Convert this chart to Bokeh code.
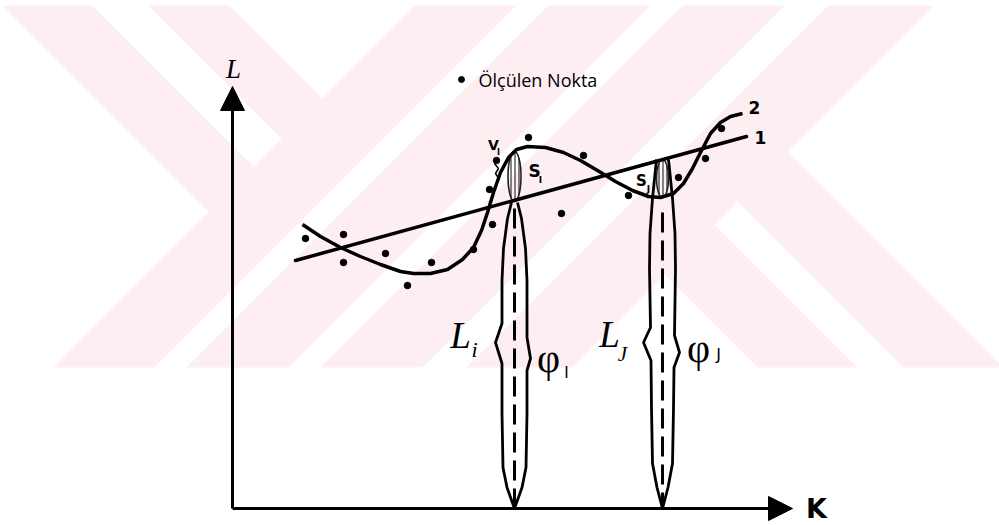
from bokeh.plotting import figure
from bokeh.models import Range1d, Arrow, NormalHead
from bokeh.core.properties import value
from bokeh.embed import file_html
from bokeh.resources import INLINE

# ---- measured points (K, L) -------------------------------------------
point_k = [73, 111, 111, 153, 199, 175, 241, 260, 257, 264, 296, 351, 329, 396, 446, 473, 489]
point_l = [270, 274, 246, 255, 246, 223, 259, 284, 319, 348, 371, 353, 295, 313, 331, 350, 380]

# ---- model 1: straight line --------------------------------------------
line1_k = [63, 514]
line1_l = [248, 372]

# ---- model 2: wavy curve -----------------------------------------------
curve2_k = [70, 88, 108, 128, 148, 168, 181, 198, 215, 230, 241, 249, 255, 261, 268,
            276, 284, 295, 313, 331, 348, 365, 383, 400, 416, 428, 441, 451, 460, 468,
            478, 488, 498, 510]
curve2_l = [284, 272, 261, 252, 244, 237, 235, 235, 239, 249, 261, 278, 296, 316, 336,
            351, 359, 362, 361, 356, 348, 338, 327, 318, 312, 311, 315, 325, 340, 356,
            375, 386, 392, 395]

# ---- normal-distribution spindles under two points (i and J) ----------
spindle_i_k = 282
i_left_l = [306, 290, 260, 228, 185, 166, 145, 95, 41, 21, 0]
i_left_hw = [3, 7, 11, 12.5, 12.5, 19, 12.5, 12.5, 11.5, 7.5, 0]
i_right_l = [306, 290, 260, 228, 171, 150, 138, 95, 41, 21, 0]
i_right_hw = [3, 7, 11, 12.5, 12.5, 16, 12.5, 12.5, 11.5, 7.5, 0]

spindle_j_k = 430
j_left_l = [349, 310, 275, 240, 181, 166, 148, 100, 45, 21, 0]
j_left_hw = [6, 10, 12.5, 13, 12, 19, 11.5, 11, 10, 5.5, 0]
j_right_l = [349, 310, 275, 240, 173, 156, 141, 100, 45, 21, 0]
j_right_hw = [6, 10, 12.5, 13, 12, 17, 11.5, 11, 10, 5.5, 0]

# hatched deviation areas S_i and S_J (centre K, centre L, width, height)
s_areas_k = [282, 430]
s_areas_l = [332, 330]
s_areas_w = [13, 12]
s_areas_h = [50, 38]

# axis extents
axis_k_end = 560
axis_l_end = 422

p = figure(width=999, height=525, x_range=Range1d(-232, 767), y_range=Range1d(-17, 508),
           output_backend="svg", toolbar_location=None, min_border=0,
           x_axis_type=None, y_axis_type=None)
p.grid.visible = False
p.outline_line_color = None
p.background_fill_color = "white"
p.border_fill_color = "white"

# ---- pale background emblem (diagonal stripes) -------------------------
PINK = "#fdeef1"
OX, OY = 232, 508  # page position of the origin
TOP, BOT = 5, 367
u_stripes = [(420, 521), (553, 655), (687, 789), (833, 938)]
tl_stripes = [(-3, 87), (143, 224)]
br_stripes = [(390, 490), (536, 636)]
wm_xs, wm_ys = [], []
for u0, u1 in u_stripes:
    xs = [u0 - TOP, u1 - TOP, u1 - BOT, u0 - BOT]
    ys = [TOP, TOP, BOT, BOT]
    wm_xs.append(xs); wm_ys.append(ys)
for v0, v1 in tl_stripes:
    xs = [v0 + TOP, v1 + TOP, (420 + v1) / 2, (420 + v0) / 2]
    ys = [TOP, TOP, (420 - v1) / 2, (420 - v0) / 2]
    wm_xs.append(xs); wm_ys.append(ys)
for v0, v1 in br_stripes:
    xs = [(938 + v0) / 2, (938 + v1) / 2, v1 + BOT, v0 + BOT]
    ys = [(938 - v0) / 2, (938 - v1) / 2, BOT, BOT]
    wm_xs.append(xs); wm_ys.append(ys)
p.patches([[x - OX for x in xs] for xs in wm_xs], [[OY - y for y in ys] for ys in wm_ys],
          fill_color=PINK, line_color=None)

# ---- axes with arrow heads ---------------------------------------------
p.add_layout(Arrow(end=NormalHead(size=24, fill_color="black", line_color="black"),
                   x_start=0, y_start=0, x_end=0, y_end=axis_l_end,
                   line_width=3, line_color="black"))
p.add_layout(Arrow(end=NormalHead(size=24, fill_color="black", line_color="black"),
                   x_start=0, y_start=0, x_end=axis_k_end, y_end=0,
                   line_width=3, line_color="black"))

# ---- spindles ------------------------------------------------------------
sp_xs = [
    [spindle_i_k - w for w in i_left_hw], [spindle_i_k + w for w in i_right_hw],
    [spindle_j_k - w for w in j_left_hw], [spindle_j_k + w for w in j_right_hw],
]
sp_ys = [i_left_l, i_right_l, j_left_l, j_right_l]
p.multi_line(sp_xs, sp_ys, line_color="black", line_width=2.8, line_join="round")
p.multi_line([[spindle_i_k, spindle_i_k], [spindle_j_k, spindle_j_k]],
             [[300, 3], [296, 3]], line_color="black", line_width=3, line_dash="20 8")

# hatched S areas
p.ellipse(x=s_areas_k, y=s_areas_l, width=s_areas_w, height=s_areas_h,
          fill_alpha=0, line_color="#222222", line_width=1.6,
          hatch_pattern="|", hatch_scale=4, hatch_weight=1.2, hatch_color="#333333")

# residual bracket v_i
p.line([262, 266, 263, 267], [345, 340, 335, 329], line_color="black", line_width=1.5)

# ---- the two models and the points ------------------------------------
p.line(line1_k, line1_l, line_color="black", line_width=3.5, line_cap="round")
p.line(curve2_k, curve2_l, line_color="black", line_width=3.5, line_join="round")
p.scatter(point_k, point_l, size=6.5, color="black")

# legend
p.scatter([229], [429], size=6, color="black")
p.text([246], [429], text=["Ölçülen Nokta"], text_font=value("Open Sans"),
       text_font_size="18px", text_baseline="middle", text_align="left", text_color="black")


def label(k, l, s, font, size, style="normal", align="center"):
    p.text([k], [l], text=[s], text_font=value(font), text_font_size=size,
           text_font_style=style, text_align=align, text_baseline="middle",
           text_color="black")


SERIF = "Liberation Serif"
SANS = "DejaVu Sans"

label(1, 440, "L", SERIF, "27px", "italic")
label(584, 0, "K", SANS, "27px", "bold")
label(522, 401, "2", SANS, "17px", "bold")
label(528, 371, "1", SANS, "17px", "bold")

label(261, 364, "V", SANS, "14px", "bold")
label(266, 356, "I", SANS, "8px", "bold")
label(302, 338, "S", SANS, "17px", "bold")
label(308, 329, "I", SANS, "9px", "bold")
label(409, 328, "S", SANS, "15px", "bold")
label(416, 320, "J", SANS, "9px", "bold")

label(228, 173, "L", SERIF, "37px", "italic")
label(242, 159, "i", SERIF, "22px", "italic")
label(377, 174, "L", SERIF, "37px", "italic")
label(390, 155, "J", SERIF, "21px", "italic")
label(316, 150, "φ", SERIF, "40px")
label(334, 136, "I", SANS, "15px")
label(466, 160, "φ", SERIF, "40px")
label(486, 154, "J", SANS, "16px")

open("out.html", "w").write(file_html(p, INLINE))
